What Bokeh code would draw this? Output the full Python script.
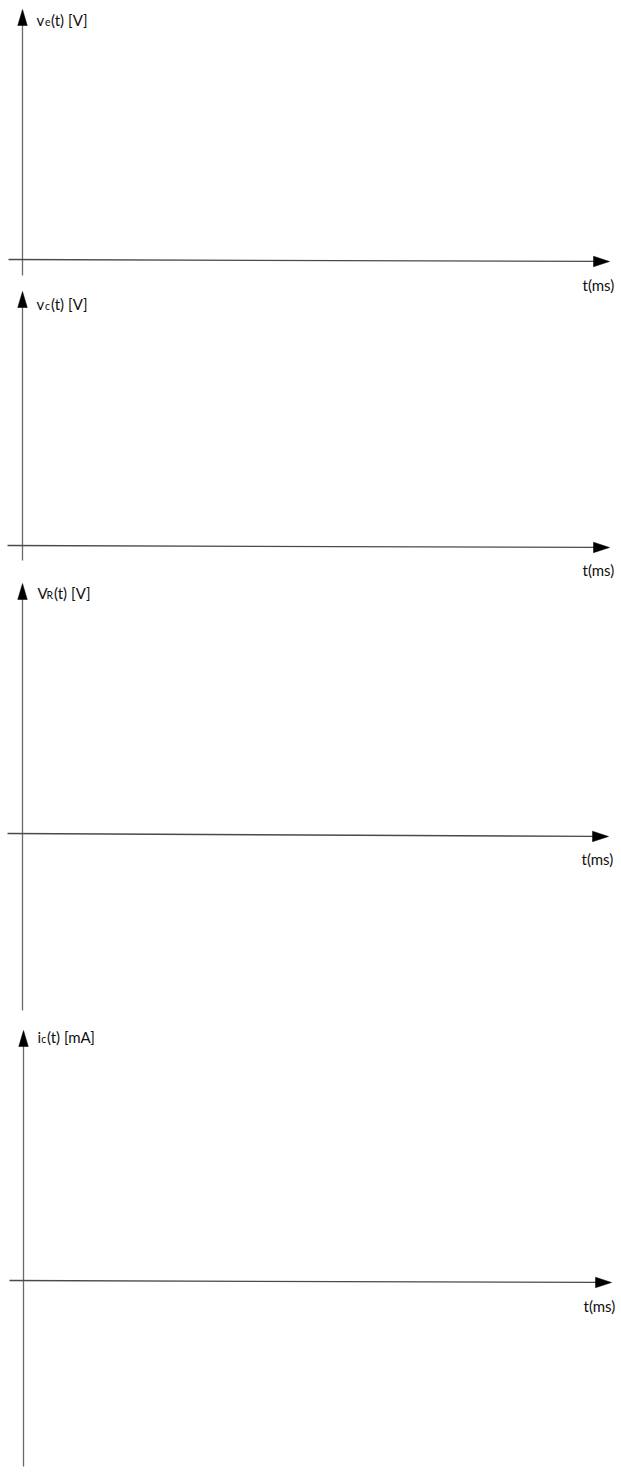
from bokeh.plotting import figure
from bokeh.models import Range1d
from bokeh.core.properties import value
from bokeh.embed import file_html
from bokeh.resources import INLINE

# ---- content (texts) ----
y_main = ["v", "v", "V", "i"]
y_sub = ["e", "c", "R", "c"]
y_rest = ["(t) [V]", "(t) [V]", "(t) [V]", "(t) [mA]"]
x_label = ["t(ms)", "t(ms)", "t(ms)", "t(ms)"]

# ---- geometry of the four panels (picture pixel coordinates) ----
v_x = [22, 22, 22, 23]            # vertical axis x
v_top = [9, 291, 583, 1030]       # arrow tip y
v_bottom = [275, 560, 1010, 1466]
h_left = [8, 7, 7, 9]
h_tip = [609, 609, 608, 611]
h_yl = [259, 545, 833, 1280]
h_yr = [261, 547, 836, 1282]

lab_x = [36, 36, 37, 37]
sub_dx = [8.5, 8.5, 9, 3.8]
rest_dx = [14.5, 14.5, 16.5, 9.5]
lab_y = [19, 303, 592, 1036]
t_x = [582, 582, 581, 583]
t_y = [284, 569, 858, 1305]

p = figure(width=621, height=1472, output_backend="svg", toolbar_location=None,
           x_range=Range1d(0, 621), y_range=Range1d(1472, 0), min_border=0)
p.axis.visible = False
p.grid.visible = False
p.outline_line_color = None
p.background_fill_color = "white"
p.border_fill_color = "white"

AH_L, AH_W = 16, 9.5   # arrowhead length and width
FONT = value("Lato")

for i in range(4):
    # vertical axis
    p.line([v_x[i], v_x[i]], [v_top[i] + AH_L - 1, v_bottom[i]], line_color="#6a6a6a", line_width=1.3)
    p.patch([v_x[i], v_x[i] - AH_W / 2, v_x[i] + AH_W / 2],
            [v_top[i], v_top[i] + AH_L, v_top[i] + AH_L], fill_color="black", line_color="black", line_width=0.5)
    # horizontal axis
    base_x = h_tip[i] - AH_L
    base_y = h_yl[i] + (h_yr[i] - h_yl[i]) * (base_x - h_left[i]) / (h_tip[i] - h_left[i])
    p.line([h_left[i], base_x + 1], [h_yl[i], base_y], line_color="#4a4a4a", line_width=1.3)
    p.patch([h_tip[i], base_x, base_x], [h_yr[i], base_y - AH_W / 2 - 0.5, base_y + AH_W / 2 + 0.5],
            fill_color="black", line_color="black", line_width=0.5)
    # y label
    p.text([lab_x[i]], [lab_y[i]], text=[y_main[i]], text_font=FONT, text_font_size="15px",
           text_baseline="middle", text_color="#111111")
    p.text([lab_x[i] + sub_dx[i]], [lab_y[i] + 2], text=[y_sub[i]], text_font=FONT,
           text_font_size="10.5px", text_baseline="middle", text_color="#111111")
    p.text([lab_x[i] + rest_dx[i]], [lab_y[i]], text=[y_rest[i]], text_font=FONT, text_font_size="15px",
           text_baseline="middle", text_color="#111111")
    # x label
    p.text([t_x[i]], [t_y[i]], text=[x_label[i]], text_font=FONT, text_font_size="15px",
           text_baseline="middle", text_color="#111111")

open("out.html", "w").write(file_html(p, INLINE))
